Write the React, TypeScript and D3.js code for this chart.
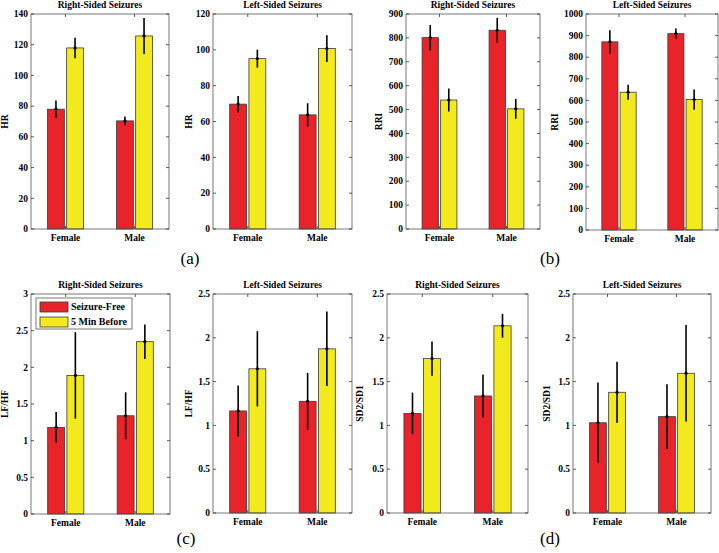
import React from "react";
import * as d3 from "d3";

const categories = ["Female", "Male"];
const seriesNames = ["Seizure-Free", "5 Min Before"];
const panelTitles = [
  "Right-Sided Seizures", "Left-Sided Seizures", "Right-Sided Seizures", "Left-Sided Seizures",
  "Right-Sided Seizures", "Left-Sided Seizures", "Right-Sided Seizures", "Left-Sided Seizures",
];
const yLabels = ["HR", "HR", "RRI", "RRI", "LF/HF", "LF/HF", "SD2/SD1", "SD2/SD1"];
const yMaxes = [140, 120, 900, 1000, 3, 2.5, 2.5, 2.5];
const yTickSteps = [20, 20, 100, 100, 0.5, 0.5, 0.5, 0.5];
const subLabels = ["(a)", "(b)", "(c)", "(d)"];

// means per panel: [Female, Male]
const freeMeans = [
  [78, 70.4], [69.7, 63.7], [801, 832], [871, 909],
  [1.18, 1.34], [1.165, 1.275], [1.137, 1.336], [1.03, 1.1],
];
const freeErrs = [
  [5.7, 2.8], [4.6, 6.5], [53, 52], [54, 24],
  [0.21, 0.32], [0.29, 0.325], [0.237, 0.245], [0.46, 0.37],
];
const beforeMeans = [
  [117.9, 125.7], [95.1, 100.7], [540, 503], [638, 604],
  [1.89, 2.35], [1.646, 1.874], [1.763, 2.137], [1.378, 1.595],
];
const beforeErrs = [
  [6.7, 11.7], [5, 7.5], [48, 42], [35, 47],
  [0.59, 0.235], [0.43, 0.425], [0.195, 0.136], [0.35, 0.55],
];

const layouts = [
  { x0: 31, x1: 169, y0: 14, y1: 229, lx: 5 },
  { x0: 213, x1: 352, y0: 14, y1: 229, lx: 189 },
  { x0: 406, x1: 540, y0: 14, y1: 229, lx: 379 },
  { x0: 586, x1: 718, y0: 14, y1: 230, lx: 555 },
  { x0: 31, x1: 170, y0: 294, y1: 514, lx: 5 },
  { x0: 213, x1: 352, y0: 294, y1: 513, lx: 189 },
  { x0: 387, x1: 528, y0: 294, y1: 513, lx: 360 },
  { x0: 573, x1: 711, y0: 294, y1: 513, lx: 547 },
];
const subLabelPos = [
  { x: 190, y: 264 }, { x: 550, y: 264 }, { x: 186, y: 544 }, { x: 550, y: 544 },
];

const COLORS = ["#e8232a", "#f2ea1c"];
const FONT = "'Liberation Serif', 'Times New Roman', serif";

function Panel({ i }: { i: number }) {
  const L = layouts[i];
  const w = L.x1 - L.x0;
  const x = d3.scalePoint<string>().domain(categories).range([L.x0, L.x1]).padding(0.5);
  const half = w * 0.13;
  const inner = d3.scaleBand<string>().domain(seriesNames).range([-half, half]).paddingInner(0.12);
  const y = d3.scaleLinear().domain([0, yMaxes[i]]).range([L.y1, L.y0]);
  const ticks = d3.range(0, yMaxes[i] + yTickSteps[i] / 2, yTickSteps[i]);
  const fmt = d3.format("~g");
  const means = [freeMeans[i], beforeMeans[i]];
  const errs = [freeErrs[i], beforeErrs[i]];
  const tl = 3;
  return (
    <g>
      <text x={(L.x0 + L.x1) / 2} y={L.y0 - 6} textAnchor="middle" fontFamily={FONT} fontWeight="bold" fontSize={9.5}>
        {panelTitles[i]}
      </text>
      {categories.map((c, ci) =>
        seriesNames.map((s, si) => {
          const bx = (x(c) as number) + (inner(s) as number);
          const bw = inner.bandwidth();
          const m = means[si][ci];
          const e = errs[si][ci];
          return (
            <g key={c + s}>
              <rect x={bx} y={y(m)} width={bw} height={y(0) - y(m)} fill={COLORS[si]} stroke="#3a3a3a" strokeWidth={0.8} />
              <line x1={bx + bw / 2} x2={bx + bw / 2} y1={y(m - e)} y2={y(m + e)} stroke="#000" strokeWidth={1.6} />
              <circle cx={bx + bw / 2} cy={y(m)} r={1.6} fill="#000" />
            </g>
          );
        })
      )}
      <rect x={L.x0} y={L.y0} width={w} height={L.y1 - L.y0} fill="none" stroke="#555" strokeWidth={0.8} />
      {ticks.map((t) => (
        <g key={t}>
          <line x1={L.x0} x2={L.x0 + tl} y1={y(t)} y2={y(t)} stroke="#333" strokeWidth={0.8} />
          <line x1={L.x1} x2={L.x1 - tl} y1={y(t)} y2={y(t)} stroke="#333" strokeWidth={0.8} />
          <text x={L.x0 - 3} y={y(t)} dy="0.34em" textAnchor="end" fontFamily={FONT} fontWeight="bold" fontSize={9.5}>
            {fmt(t)}
          </text>
        </g>
      ))}
      {categories.map((c) => (
        <g key={c}>
          <line x1={x(c)} x2={x(c)} y1={L.y1} y2={L.y1 - tl} stroke="#333" strokeWidth={0.8} />
          <line x1={x(c)} x2={x(c)} y1={L.y0} y2={L.y0 + tl} stroke="#333" strokeWidth={0.8} />
          <text x={x(c)} y={L.y1 + 12} textAnchor="middle" fontFamily={FONT} fontWeight="bold" fontSize={9.5}>
            {c}
          </text>
        </g>
      ))}
      <text
        transform={`translate(${L.lx},${(L.y0 + L.y1) / 2}) rotate(-90)`}
        dy="0.34em"
        textAnchor="middle"
        fontFamily={FONT}
        fontWeight="bold"
        fontSize={9.5}
      >
        {yLabels[i]}
      </text>
      {i === 4 && (
        <g>
          <rect x={L.x0 + 5} y={L.y0 + 4} width={96} height={31} fill="#fff" stroke="#555" strokeWidth={0.8} />
          {seriesNames.map((s, si) => (
            <g key={s}>
              <rect x={L.x0 + 9} y={L.y0 + 8 + si * 15} width={28} height={10} fill={COLORS[si]} stroke="#3a3a3a" strokeWidth={0.8} />
              <text x={L.x0 + 40} y={L.y0 + 13 + si * 15} dy="0.34em" fontFamily={FONT} fontWeight="bold" fontSize={10}>
                {s}
              </text>
            </g>
          ))}
        </g>
      )}
    </g>
  );
}

export default function App() {
  return (
    <svg width={719} height={553} style={{ position: "absolute", left: 0, top: 0, background: "#fff" }}>
      <rect width={719} height={553} fill="#fff" />
      {layouts.map((_, i) => (
        <Panel key={i} i={i} />
      ))}
      {subLabels.map((s, i) => (
        <text key={s} x={subLabelPos[i].x} y={subLabelPos[i].y} textAnchor="middle" fontFamily={FONT} fontSize={17}>
          {s}
        </text>
      ))}
    </svg>
  );
}
